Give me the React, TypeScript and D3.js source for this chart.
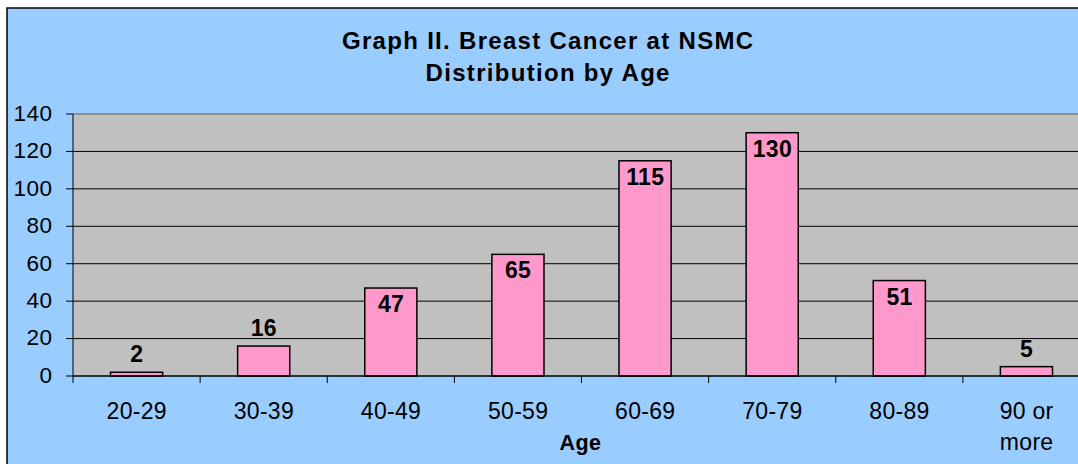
import React from "react";
import * as d3 from "d3";

const categories = ["20-29", "30-39", "40-49", "50-59", "60-69", "70-79", "80-89", "90 or more"];
const values = [2, 16, 47, 65, 115, 130, 51, 5];
const yTicks = [0, 20, 40, 60, 80, 100, 120, 140];
const titleLines = ["Graph II. Breast Cancer at NSMC", "Distribution by Age"];
const xTitle = "Age";

const W = 1078;
const H = 464;
const plot = { left: 73, right: 1090, top: 114, bottom: 376 };
const FONT = "'Liberation Sans', Arial, sans-serif";

export default function App() {
  const x = d3.scaleBand<string>().domain(categories).range([plot.left, plot.right]).padding(0);
  const y = d3.scaleLinear().domain([0, 140]).range([plot.bottom, plot.top]);
  const bw = x.bandwidth() * 0.41;
  const cx = (c: string) => (x(c) as number) + x.bandwidth() / 2;

  return (
    <svg width={W} height={H} style={{ position: "absolute", left: 0, top: 0 }} fontFamily={FONT}>
      <rect x={0} y={0} width={W} height={H} fill="#ffffff" />
      <rect x={7} y={8} width={W + 20} height={H + 20} fill="#99CCFF" stroke="#000" strokeWidth={1.5} />
      {titleLines.map((t, i) => (
        <text key={t} x={548.2} y={48.5 + i * 32} textAnchor="middle" fontSize={24} fontWeight="bold" letterSpacing={1.3} fill="#000">
          {t}
        </text>
      ))}
      <rect x={plot.left} y={plot.top} width={plot.right - plot.left} height={plot.bottom - plot.top} fill="#C0C0C0" />
      <line x1={plot.left} x2={plot.right} y1={plot.top} y2={plot.top} stroke="#808080" strokeWidth={1.5} />
      {yTicks.map((t) => (
        <g key={t}>
          {t > 0 && t < 140 && (
            <line x1={plot.left} x2={plot.right} y1={y(t)} y2={y(t)} stroke="#000" strokeWidth={1} />
          )}
          <line x1={plot.left - 7} x2={plot.left} y1={y(t)} y2={y(t)} stroke="#000" strokeWidth={1} />
          <text x={52.5} y={y(t) + 6.8} textAnchor="end" fontSize={22.5} letterSpacing={0.5} fill="#000">
            {t}
          </text>
        </g>
      ))}
      {categories.map((c, i) => {
        const v = values[i];
        const inside = v > 30;
        return (
          <g key={c}>
            <rect
              x={cx(c) - bw / 2}
              y={y(v)}
              width={bw}
              height={plot.bottom - y(v)}
              fill="#FF99CC"
              stroke="#000"
              strokeWidth={1.5}
            />
            <text
              x={cx(c) + 0.2}
              y={inside ? y(v) + 24 : y(v) - 10}
              textAnchor="middle"
              fontSize={23}
              fontWeight="bold"
              letterSpacing={0.3}
              fill="#000"
            >
              {v}
            </text>
          </g>
        );
      })}
      <line x1={plot.left} x2={plot.left} y1={plot.top} y2={plot.bottom + 7} stroke="#000" strokeWidth={1} />
      <line x1={plot.left} x2={plot.right} y1={plot.bottom} y2={plot.bottom} stroke="#000" strokeWidth={1.5} />
      {categories.map((c) => (
        <line key={c} x1={(x(c) as number) + x.bandwidth()} x2={(x(c) as number) + x.bandwidth()} y1={plot.bottom} y2={plot.bottom + 7} stroke="#000" strokeWidth={1} />
      ))}
      {categories.map((c) => {
        const parts = c === "90 or more" ? ["90 or", "more"] : [c];
        return parts.map((p, j) => (
          <text key={c + j} x={cx(c) + 0.2} y={419.3 + j * 31} textAnchor="middle" fontSize={23} letterSpacing={0.3} fill="#000">
            {p}
          </text>
        ));
      })}
      <text x={(plot.left + plot.right) / 2 - 1} y={449.5} textAnchor="middle" fontSize={21.5} fontWeight="bold" letterSpacing={0.4} fill="#000">
        {xTitle}
      </text>
    </svg>
  );
}
